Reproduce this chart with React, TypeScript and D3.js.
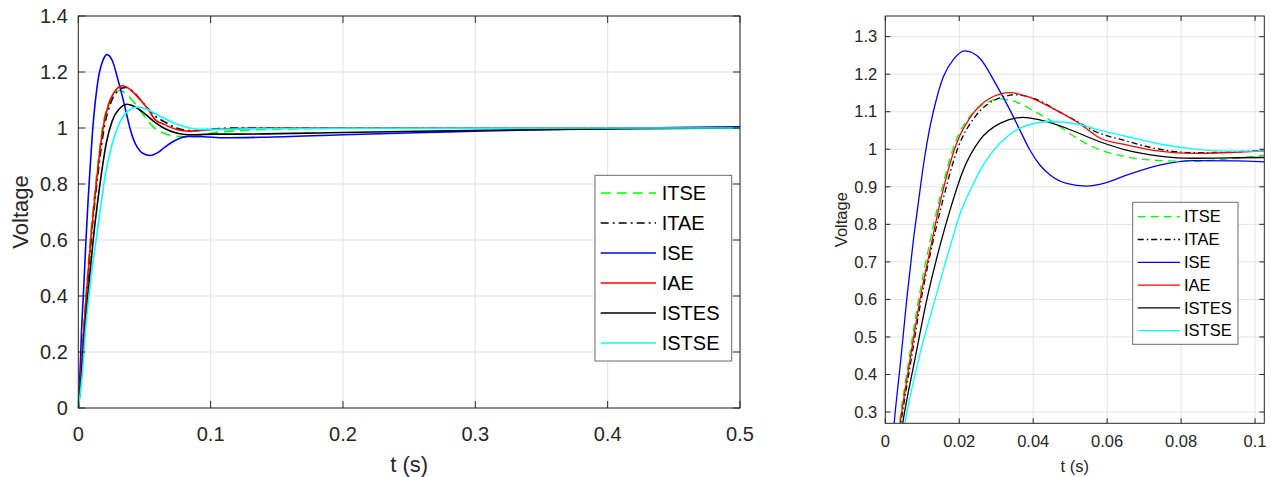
import React from "react";
import * as d3 from "d3";

// step responses: [t (s), voltage]
const itse: [number, number][] = [
  [0, 0], [0.002, 0.12], [0.0038, 0.27], [0.0064, 0.44], [0.009, 0.6], [0.012, 0.75],
  [0.0144, 0.857], [0.019, 1.02], [0.0235, 1.095], [0.027, 1.122], [0.031, 1.134],
  [0.0364, 1.122], [0.0405, 1.1], [0.0445, 1.078], [0.0472, 1.06], [0.0526, 1.025],
  [0.0562, 1.006], [0.0652, 0.98], [0.0742, 0.97], [0.0832, 0.968], [0.0923, 0.974],
  [0.102, 0.983], [0.12, 0.99], [0.15, 0.996], [0.2, 0.999], [0.5, 1.0],
];
const itae: [number, number][] = [
  [0, 0], [0.002, 0.11], [0.0042, 0.27], [0.007, 0.44], [0.0097, 0.6], [0.0128, 0.75],
  [0.0152, 0.85], [0.0197, 1.005], [0.0243, 1.087], [0.029, 1.128], [0.0355, 1.145],
  [0.041, 1.132], [0.0472, 1.099], [0.0526, 1.07], [0.0562, 1.05], [0.0652, 1.022],
  [0.0742, 1.0], [0.0832, 0.991], [0.0923, 0.992], [0.102, 0.997], [0.12, 1.0], [0.5, 1.0],
];
const ise: [number, number][] = [
  [0, 0], [0.001, 0.09], [0.0024, 0.27], [0.0042, 0.44], [0.0058, 0.6], [0.0075, 0.75],
  [0.0089, 0.855], [0.0105, 0.97], [0.0121, 1.06], [0.014, 1.14], [0.0157, 1.193],
  [0.0185, 1.24], [0.0215, 1.262], [0.0256, 1.242], [0.0301, 1.17], [0.0337, 1.105],
  [0.0364, 1.051], [0.0391, 0.998], [0.0418, 0.958], [0.0445, 0.932], [0.049, 0.909],
  [0.0544, 0.902], [0.06, 0.912], [0.0652, 0.931], [0.0742, 0.958], [0.0832, 0.97],
  [0.095, 0.969], [0.11, 0.965], [0.14, 0.967], [0.2, 0.976], [0.28, 0.986], [0.35, 0.994],
  [0.42, 1.0], [0.5, 1.004],
];
const iae: [number, number][] = [
  [0, 0], [0.002, 0.12], [0.004, 0.27], [0.0067, 0.44], [0.0094, 0.6], [0.0125, 0.75],
  [0.0148, 0.857], [0.0193, 1.016], [0.0238, 1.096], [0.0283, 1.136], [0.0337, 1.151],
  [0.0391, 1.138], [0.0445, 1.113], [0.0526, 1.068], [0.058, 1.03], [0.0652, 1.012],
  [0.0742, 0.995], [0.0832, 0.989], [0.0923, 0.991], [0.102, 0.995], [0.12, 0.998],
  [0.15, 1.0], [0.5, 1.0],
];
const istes: [number, number][] = [
  [0, 0], [0.0025, 0.12], [0.0047, 0.27], [0.008, 0.44], [0.0112, 0.598], [0.0147, 0.74],
  [0.0175, 0.838], [0.0211, 0.945], [0.0256, 1.025], [0.031, 1.069], [0.0373, 1.085],
  [0.0418, 1.078], [0.049, 1.056], [0.058, 1.02], [0.0652, 0.998],
  [0.0742, 0.982], [0.0832, 0.976], [0.102, 0.978], [0.12, 0.978], [0.2, 0.984],
  [0.28, 0.99], [0.4, 0.997], [0.5, 1.0],
];
const istse: [number, number][] = [
  [0, 0], [0.003, 0.12], [0.0053, 0.27], [0.009, 0.44], [0.0134, 0.598], [0.0175, 0.74],
  [0.0206, 0.838], [0.0232, 0.895], [0.0256, 0.943], [0.031, 1.016], [0.0364, 1.056],
  [0.0445, 1.074], [0.0526, 1.066], [0.058, 1.051], [0.0652, 1.034], [0.0742, 1.014],
  [0.0832, 1.001], [0.0923, 0.995], [0.102, 0.995], [0.13, 0.997], [0.2, 0.999], [0.5, 1.0],
];

const seriesNames = ["ITSE", "ITAE", "ISE", "IAE", "ISTES", "ISTSE"];
const seriesData = [itse, itae, ise, iae, istes, istse];

const leftXTicks = [0, 0.1, 0.2, 0.3, 0.4, 0.5];
const leftYTicks = [0, 0.2, 0.4, 0.6, 0.8, 1, 1.2, 1.4];
const rightXTicks = [0, 0.02, 0.04, 0.06, 0.08, 0.1];
const rightYTicks = [0.3, 0.4, 0.5, 0.6, 0.7, 0.8, 0.9, 1, 1.1, 1.2, 1.3];

const colors = ["#00ff00", "#000000", "#0000ff", "#ff0000", "#000000", "#00ffff"];
const FONT = "'Liberation Sans', Arial, Helvetica, sans-serif";
const AX = "#262626";

const fmt = (v: number) => String(+v.toFixed(3));

type PanelProps = {
  id: string;
  x0: number; y0: number; x1: number; y1: number;
  xDomain: [number, number]; yDomain: [number, number];
  xTicks: number[]; yTicks: number[];
  fs: number; labelFs: number; tickLen: number; lw: number;
  yLabelGap: number; xLabelDy: number; xTitleY: number; yTitleX: number;
  dash: string; dashDot: string;
  leg: { x: number; y: number; w: number; h: number; row0: number; rowH: number; l0: number; l1: number; tx: number };
};

const Panel = (p: PanelProps) => {
  const x = d3.scaleLinear().domain(p.xDomain).range([p.x0, p.x1]);
  const y = d3.scaleLinear().domain(p.yDomain).range([p.y1, p.y0]);
  const line = d3.line<[number, number]>()
    .x((d) => x(d[0]))
    .y((d) => y(d[1]))
    .curve(d3.curveMonotoneX);
  const dashes = [p.dash, p.dashDot, "", "", "", ""];
  return (
    <g fontFamily={FONT}>
      <defs>
        <clipPath id={p.id}>
          <rect x={p.x0} y={p.y0} width={p.x1 - p.x0} height={p.y1 - p.y0} />
        </clipPath>
      </defs>
      <rect x={p.x0} y={p.y0} width={p.x1 - p.x0} height={p.y1 - p.y0} fill="#fff" />
      {p.xTicks.map((t) => (
        <line key={"gx" + t} x1={x(t)} x2={x(t)} y1={p.y0} y2={p.y1} stroke="#e3e3e3" />
      ))}
      {p.yTicks.map((t) => (
        <line key={"gy" + t} x1={p.x0} x2={p.x1} y1={y(t)} y2={y(t)} stroke="#e3e3e3" />
      ))}
      <g clipPath={`url(#${p.id})`}>
        {seriesData.map((d, i) => (
          <path key={i} d={line(d) || ""} fill="none" stroke={colors[i]} strokeWidth={p.lw}
            strokeDasharray={dashes[i] || undefined} />
        ))}
      </g>
      {p.xTicks.map((t) => (
        <g key={"tx" + t}>
          <line x1={x(t)} x2={x(t)} y1={p.y1} y2={p.y1 - p.tickLen} stroke={AX} />
          <line x1={x(t)} x2={x(t)} y1={p.y0} y2={p.y0 + p.tickLen} stroke={AX} />
          <text x={x(t)} y={p.y1 + p.xLabelDy} textAnchor="middle" fontSize={p.fs} fill={AX}>{fmt(t)}</text>
        </g>
      ))}
      {p.yTicks.map((t) => (
        <g key={"ty" + t}>
          <line x1={p.x0} x2={p.x0 + p.tickLen} y1={y(t)} y2={y(t)} stroke={AX} />
          <line x1={p.x1} x2={p.x1 - p.tickLen} y1={y(t)} y2={y(t)} stroke={AX} />
          <text x={p.x0 - p.yLabelGap} y={y(t)} dy="0.35em" textAnchor="end" fontSize={p.fs} fill={AX}>{fmt(t)}</text>
        </g>
      ))}
      <rect x={p.x0} y={p.y0} width={p.x1 - p.x0} height={p.y1 - p.y0} fill="none" stroke={AX} />
      <text x={(p.x0 + p.x1) / 2} y={p.xTitleY} textAnchor="middle" fontSize={p.labelFs} fill={AX}>t (s)</text>
      <text transform={`translate(${p.yTitleX},${(p.y0 + p.y1) / 2}) rotate(-90)`} textAnchor="middle"
        fontSize={p.labelFs} fill={AX}>Voltage</text>
      <rect x={p.leg.x} y={p.leg.y} width={p.leg.w} height={p.leg.h} fill="#fff" stroke="#6b6b6b" />
      {seriesNames.map((n, i) => {
        const cy = p.leg.row0 + i * p.leg.rowH;
        return (
          <g key={n}>
            <line x1={p.leg.l0} x2={p.leg.l1} y1={cy} y2={cy} stroke={colors[i]} strokeWidth={p.lw}
              strokeDasharray={dashes[i] || undefined} />
            <text x={p.leg.tx} y={cy} dy="0.35em" fontSize={p.fs} fill="#000">{n}</text>
          </g>
        );
      })}
    </g>
  );
};

export default function App() {
  return (
    <div>
      <style>{"body{margin:0}"}</style>
      <svg width={1271} height={477} style={{ display: "block", background: "#fff" }}>
        <Panel id="clipL" x0={78.3} y0={16} x1={740} y1={408}
          xDomain={[0, 0.5]} yDomain={[0, 1.4]} xTicks={leftXTicks} yTicks={leftYTicks}
          fs={20} labelFs={22} tickLen={7} lw={1.6} yLabelGap={10.5} xLabelDy={33} xTitleY={472} yTitleX={28}
          dash="10,6" dashDot="8,4,2,4"
          leg={{ x: 595, y: 175.3, w: 136.7, h: 185.7, row0: 193, rowH: 30, l0: 600.7, l1: 656, tx: 661.7 }} />
        <Panel id="clipR" x0={885.3} y0={16} x1={1264.3} y1={423.3}
          xDomain={[0, 0.1025]} yDomain={[0.27, 1.355]} xTicks={rightXTicks} yTicks={rightYTicks}
          fs={16.5} labelFs={16.5} tickLen={5} lw={1.3} yLabelGap={8} xLabelDy={24} xTitleY={472} yTitleX={846.5}
          dash="8,5" dashDot="6,3,1.5,3"
          leg={{ x: 1132.7, y: 202.3, w: 105.3, h: 142, row0: 216.7, rowH: 22.8, l0: 1137.7, l1: 1180, tx: 1184 }} />
      </svg>
    </div>
  );
}
